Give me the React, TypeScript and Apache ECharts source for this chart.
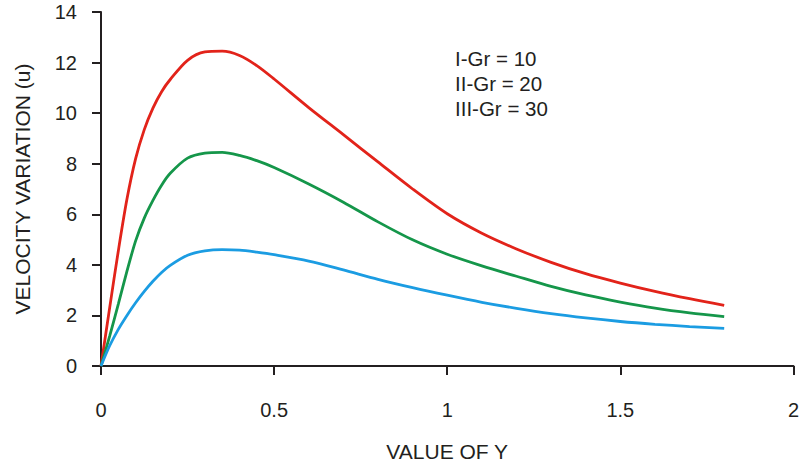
import React, { useEffect, useRef } from "react";
import * as echarts from "echarts";

const xValues = [0, 0.025, 0.05, 0.075, 0.1, 0.125, 0.15, 0.175, 0.2, 0.25, 0.3, 0.35, 0.4, 0.45, 0.5, 0.6, 0.7, 0.8, 0.9, 1.0, 1.1, 1.2, 1.3, 1.4, 1.5, 1.6, 1.7, 1.8];
const redGr10 = [0, 2.3, 4.55, 6.6, 8.2, 9.35, 10.2, 10.85, 11.33, 12.09, 12.42, 12.45, 12.28, 11.88, 11.35, 10.22, 9.15, 8.07, 7.0, 6.02, 5.25, 4.63, 4.1, 3.65, 3.28, 2.95, 2.66, 2.4];
const greenGr20 = [0, 1.18, 2.45, 3.75, 4.95, 5.85, 6.55, 7.15, 7.62, 8.22, 8.42, 8.45, 8.33, 8.12, 7.85, 7.2, 6.48, 5.7, 4.99, 4.42, 3.96, 3.55, 3.15, 2.81, 2.53, 2.29, 2.1, 1.95];
const blueGr30 = [0, 0.8, 1.45, 2.0, 2.5, 2.95, 3.35, 3.7, 3.98, 4.38, 4.55, 4.6, 4.58, 4.5, 4.4, 4.15, 3.8, 3.43, 3.1, 2.8, 2.52, 2.28, 2.07, 1.9, 1.76, 1.65, 1.56, 1.49];
const legendLabels = ["I-Gr = 10", "II-Gr = 20", "III-Gr = 30"];
const xTitle = "VALUE OF Y";
const yTitle = "VELOCITY VARIATION (u)";

const FONT = "Liberation Sans, Arial, sans-serif";
const AXIS_COLOR = "#231f20";
const TEXT_COLOR = "#231f20";

function pairs(ys: number[]) {
  return xValues.map((x, i) => [x, ys[i]]);
}

export default function App() {
  const ref = useRef<HTMLDivElement>(null);
  useEffect(() => {
    if (!ref.current) return;
    const chart = echarts.init(ref.current, undefined, { renderer: "svg" });
    const axisCommon = {
      axisLine: { show: true, lineStyle: { color: AXIS_COLOR, width: 2 } },
      axisTick: { show: true, inside: false, length: 9, lineStyle: { color: AXIS_COLOR, width: 2 } },
      splitLine: { show: false },
    };
    chart.setOption({
      animation: false,
      backgroundColor: "#ffffff",
      grid: { left: 101, right: 5, top: 12, bottom: 101, containLabel: false },
      xAxis: {
        type: "value",
        min: 0,
        max: 2,
        interval: 0.5,
        ...axisCommon,
        axisLabel: {
          margin: 34,
          fontSize: 20,
          fontFamily: FONT,
          color: TEXT_COLOR,
          formatter: (v: number) => String(v),
        },
        name: xTitle,
        nameLocation: "middle",
        nameGap: 75,
        nameTextStyle: { fontSize: 21, fontFamily: FONT, color: TEXT_COLOR },
      },
      yAxis: {
        type: "value",
        min: 0,
        max: 14,
        interval: 2,
        ...axisCommon,
        axisLabel: { margin: 24, fontSize: 20, fontFamily: FONT, color: TEXT_COLOR },
        name: yTitle,
        nameLocation: "middle",
        nameGap: 68,
        nameRotate: 90,
        nameTextStyle: { fontSize: 21, fontFamily: FONT, color: TEXT_COLOR },
      },
      graphic: legendLabels.map((t, i) => ({
        type: "text",
        left: 455,
        top: 48 + i * 25,
        style: { text: t, fontSize: 20.5, fontFamily: FONT, fill: TEXT_COLOR },
      })),
      series: [
        { name: legendLabels[0], type: "line", data: pairs(redGr10), smooth: 0.3, showSymbol: false, lineStyle: { color: "#e2231a", width: 2.8 } },
        { name: legendLabels[1], type: "line", data: pairs(greenGr20), smooth: 0.3, showSymbol: false, lineStyle: { color: "#15964a", width: 2.8 } },
        { name: legendLabels[2], type: "line", data: pairs(blueGr30), smooth: 0.3, showSymbol: false, lineStyle: { color: "#1b9ce2", width: 2.8 } },
      ],
    });
    return () => chart.dispose();
  }, []);
  return <div ref={ref} style={{ width: 802, height: 467, position: "absolute", left: 0, top: 0 }} />;
}
